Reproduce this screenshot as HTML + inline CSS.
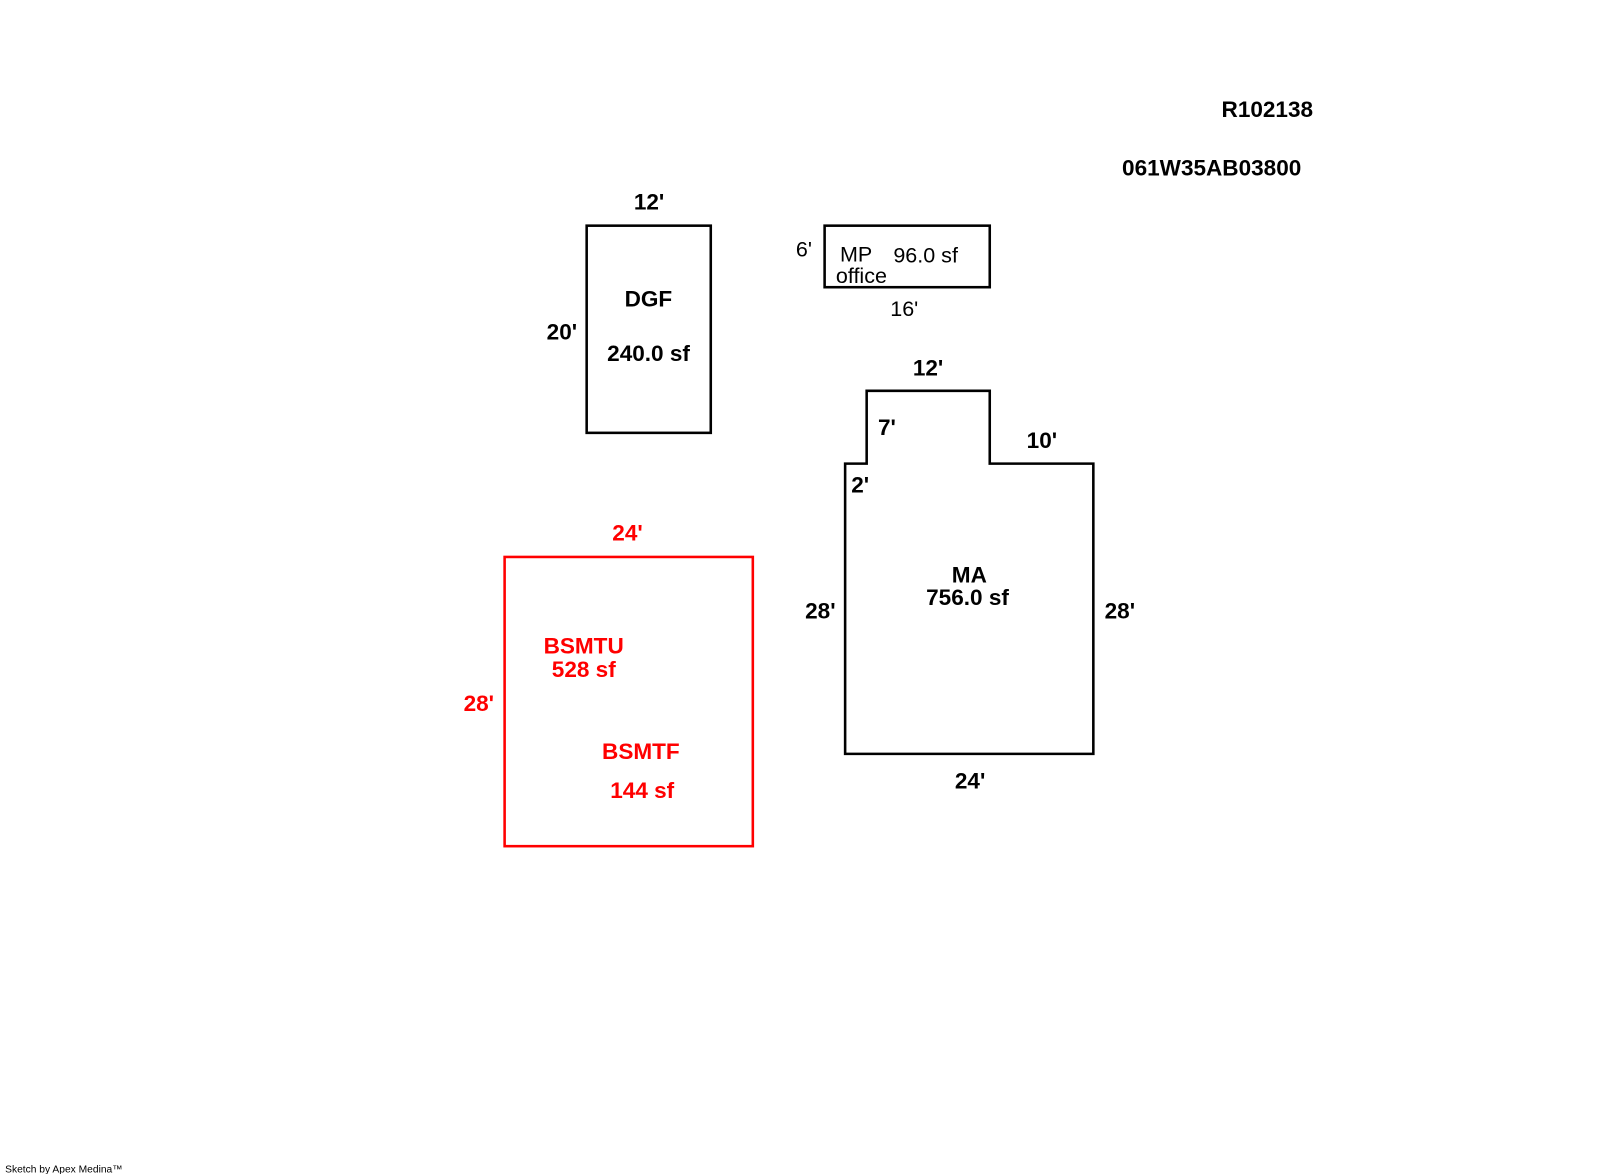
<!DOCTYPE html>
<html><head><meta charset="utf-8"><style>
html,body{margin:0;padding:0;background:#fff;width:1600px;height:1174px;overflow:hidden}
svg{display:block}
text{font-family:"Liberation Sans",Arial,sans-serif;font-size:21px}
.b{font-weight:bold;font-size:22px}
.r{fill:#f00}
</style></head><body>
<svg width="1600" height="1174" viewBox="0 0 1560 1144.6" xmlns="http://www.w3.org/2000/svg">
<g transform="translate(-3,-2)">
<text class="b" x="1194" y="116">R102138</text>
<text class="b" x="1097" y="173">061W35AB03800</text>

<rect x="575" y="222" width="121" height="202" fill="none" stroke="#000" stroke-width="2.5"/>
<text class="b" x="621" y="206">12'</text>
<text class="b" x="536" y="333">20'</text>
<text class="b" x="612" y="301">DGF</text>
<text class="b" x="595" y="354">240.0 sf</text>

<rect x="807" y="222" width="161" height="60" fill="none" stroke="#000" stroke-width="2.5"/>
<text x="779" y="252">6'</text>
<text x="822" y="257">MP</text>
<text x="874" y="258">96.0 sf</text>
<text x="818" y="278">office</text>
<text x="871" y="310">16'</text>

<polygon points="827,454 848,454 848,383 968,383 968,454 1069,454 1069,737 827,737" fill="none" stroke="#000" stroke-width="2.5"/>
<text class="b" x="893" y="368">12'</text>
<text class="b" x="859" y="426">7'</text>
<text class="b" x="1004" y="439">10'</text>
<text class="b" x="833" y="482">2'</text>
<text class="b" x="788" y="605">28'</text>
<text class="b" x="1080" y="605">28'</text>
<text class="b" x="931" y="570">MA</text>
<text class="b" x="906" y="592">756.0 sf</text>
<text class="b" x="934" y="771">24'</text>

<rect x="495" y="545" width="242" height="282" fill="none" stroke="#f00" stroke-width="2.5"/>
<text class="b r" x="600" y="529">24'</text>
<text class="b r" x="455" y="695">28'</text>
<text class="b r" x="533" y="639">BSMTU</text>
<text class="b r" x="541" y="662">528 sf</text>
<text class="b r" x="590" y="742">BSMTF</text>
<text class="b r" x="598" y="780">144 sf</text>

<text x="8" y="1145" style="font-size:10px">Sketch by Apex Medina™</text>
</g>
</svg>
</body></html>
